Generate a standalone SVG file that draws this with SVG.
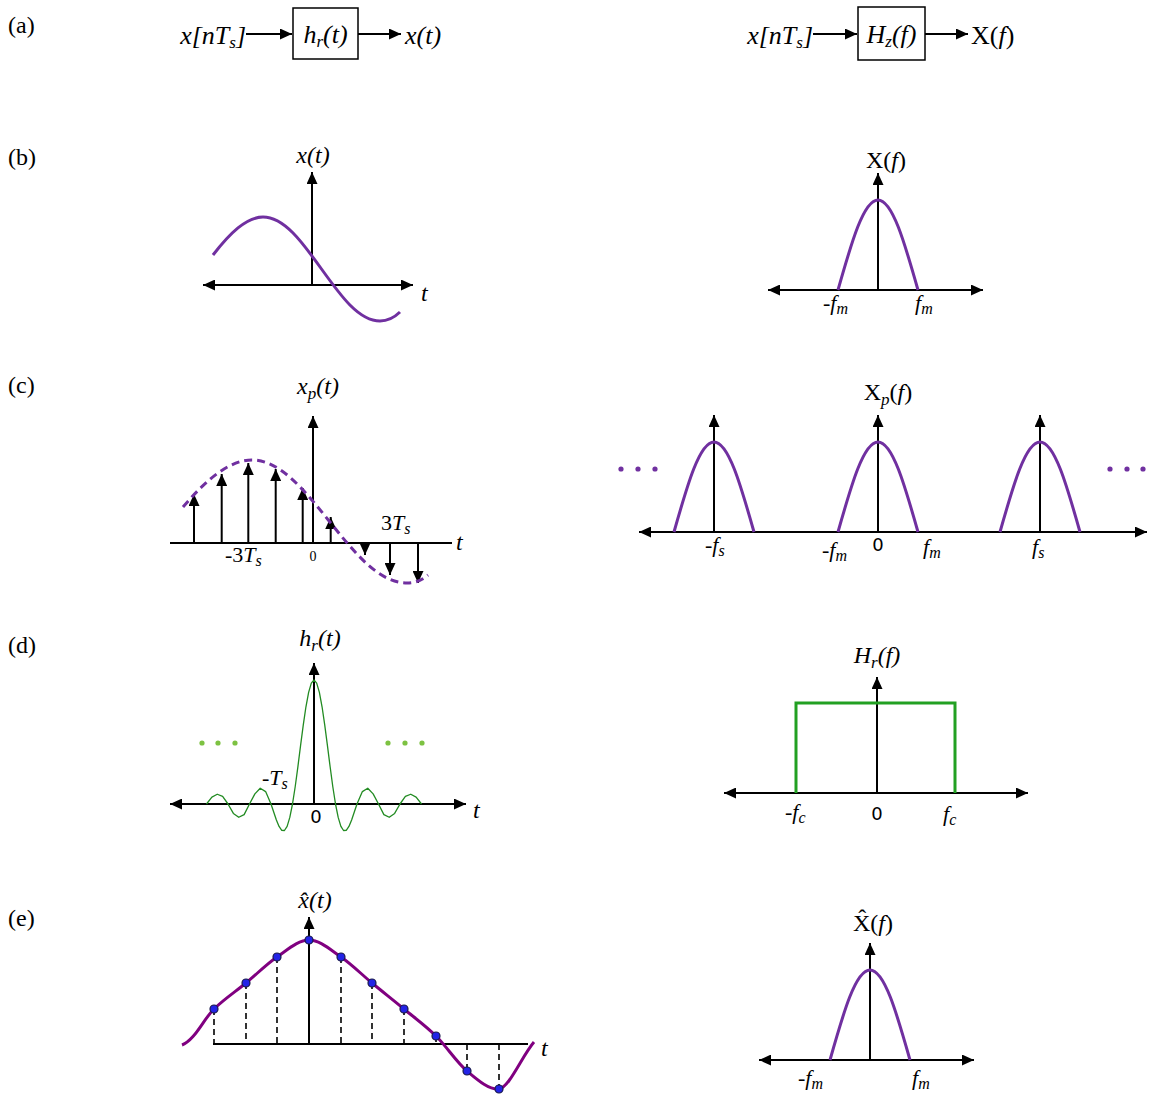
<svg xmlns="http://www.w3.org/2000/svg" width="1149" height="1097" viewBox="0 0 1149 1097">
<style>
text{font-family:"Liberation Serif","Times New Roman",serif;fill:#000}
.it{font-style:italic}
.up{font-style:normal}
.row{font-size:24px}
.blk{font-size:26px;font-style:italic}
.ttl{font-size:24px;font-style:italic}
.tk{font-size:22px}
.z{font-family:"DejaVu Sans","Liberation Sans",sans-serif;font-size:18px}
.ax{stroke:#000;stroke-width:2;fill:none}
.ax1{stroke:#000;stroke-width:2;fill:none;marker-end:url(#ah)}
.ax2{stroke:#000;stroke-width:2;fill:none;marker-end:url(#ah);marker-start:url(#ah)}
.imp{stroke:#000;stroke-width:2;fill:none;marker-end:url(#ah)}
.pur{stroke:#7030A0;stroke-width:3;fill:none}
.grn{stroke:#228B22;stroke-width:1.3;fill:none}
.box{stroke:#000;stroke-width:1.5;fill:#fff}
.dsh{stroke:#000;stroke-width:1.6;stroke-dasharray:6 4;fill:none}
.smp{fill:#2323E6;stroke:#1a1a4a;stroke-width:1.2}
</style>
<defs>
<marker id="ah" markerUnits="userSpaceOnUse" markerWidth="13" markerHeight="11" refX="12" refY="5.5" orient="auto-start-reverse" viewBox="0 0 13 11">
<path d="M0,0 L12,5.5 L0,11 z" fill="#000"/>
</marker>
</defs>

<g id="row-labels">
<text class="row" x="8" y="33">(a)</text>
<text class="row" x="8" y="165">(b)</text>
<text class="row" x="8" y="393">(c)</text>
<text class="row" x="8" y="653">(d)</text>
<text class="row" x="8" y="926">(e)</text>
</g>

<g id="a-left">
<text class="blk" x="246" y="44" text-anchor="end">x[nT<tspan font-size="17" dy="4">s</tspan><tspan dy="-4">]</tspan></text>
<g id="hr-box"><rect class="box" x="293" y="8" width="65" height="51"/>
<text class="blk" x="325.5" y="43" text-anchor="middle">h<tspan font-size="17" dy="4">r</tspan><tspan dy="-4">(t)</tspan></text></g>
<text class="blk" x="405" y="44">x(t)</text>
</g>

<g id="a-right">
<text class="blk" x="813" y="44" text-anchor="end">x[nT<tspan font-size="17" dy="4">s</tspan><tspan dy="-4">]</tspan></text>
<g id="hz-box"><rect class="box" x="858" y="7" width="67" height="53"/>
<text class="blk" x="891.5" y="43" text-anchor="middle">H<tspan font-size="17" dy="4">z</tspan><tspan dy="-4">(f)</tspan></text></g>
<text class="blk" x="971" y="44"><tspan class="up">X(</tspan>f<tspan class="up">)</tspan></text>
</g>

<g id="connectors">
<line class="ax1" x1="246" y1="34" x2="292" y2="34"/>
<line class="ax1" x1="358" y1="34" x2="401" y2="34"/>
<line class="ax1" x1="813" y1="34" x2="857" y2="34"/>
<line class="ax1" x1="925" y1="34" x2="968" y2="34"/>
</g>

<g id="b-left">
<line class="ax2" x1="203" y1="285" x2="413" y2="285"/>
<line class="ax1" x1="312" y1="285" x2="312" y2="172"/>
<path class="pur" d="M213,255 C229.7,233.5 246.3,217 263,217 C284.07,217 301.94,241.69 321.5,269 C341.06,296.31 358.93,321 380,321 C386.67,321 393.33,318.46 400,312"/>
<text class="ttl" x="313" y="163" text-anchor="middle">x(t)</text>
<text class="ttl" x="421" y="301">t</text>
</g>

<g id="b-right">
<line class="ax2" x1="768" y1="290" x2="983" y2="290"/>
<line class="ax1" x1="878" y1="290" x2="878" y2="173"/>
<path class="pur" d="M838,290 C851.37,242.74 863.59,200 878,200 C892.41,200 904.63,242.74 918,290"/>
<text class="ttl" x="886" y="168" text-anchor="middle"><tspan class="up">X(</tspan>f<tspan class="up">)</tspan></text>
<text class="tk" x="823" y="310">-<tspan class="it">f</tspan><tspan class="it" font-size="16" dy="4">m</tspan></text>
<text class="tk" x="915" y="310"><tspan class="it">f</tspan><tspan class="it" font-size="16" dy="4">m</tspan></text>
</g>

<g id="c-left">
<line class="ax" x1="170" y1="543" x2="452" y2="543"/>
<line class="imp" x1="313" y1="543" x2="313" y2="416"/>
<line class="imp" x1="194" y1="543" x2="194" y2="494"/>
<line class="imp" x1="221.7" y1="543" x2="221.7" y2="474"/>
<line class="imp" x1="248.3" y1="543" x2="248.3" y2="463"/>
<line class="imp" x1="275.7" y1="543" x2="275.7" y2="469"/>
<line class="imp" x1="302.7" y1="543" x2="302.7" y2="488"/>
<line class="imp" x1="330.7" y1="543" x2="330.7" y2="517"/>
<line class="imp" x1="365" y1="543" x2="365" y2="555"/>
<line class="imp" x1="390" y1="543" x2="390" y2="575"/>
<line class="imp" x1="418" y1="543" x2="418" y2="583"/>
<path class="pur" stroke-dasharray="8 5" d="M183,507 C206,480 229,460 252,460 C279.92,460 303.6,489.21 329.5,521.5 C355.41,553.79 379.09,583 407,583 C414,583 421,581.1 428,575"/>
<text class="ttl" x="318" y="394" text-anchor="middle">x<tspan font-size="17" dy="5">p</tspan><tspan dy="-5">(t)</tspan></text>
<text class="ttl" x="456" y="550">t</text>
<text class="tk" x="225" y="562">-3<tspan class="it">T</tspan><tspan class="it" font-size="16" dy="4">s</tspan></text>
<text x="313" y="561" font-size="14" text-anchor="middle">0</text>
<text class="tk" x="381" y="530">3<tspan class="it">T</tspan><tspan class="it" font-size="16" dy="4">s</tspan></text>
</g>

<g id="c-right">
<line class="ax2" x1="639" y1="532" x2="1147" y2="532"/>
<line class="ax1" x1="714" y1="532" x2="714" y2="415"/>
<line class="ax1" x1="878" y1="532" x2="878" y2="415"/>
<line class="ax1" x1="1040" y1="532" x2="1040" y2="415"/>
<path class="pur" d="M674,532 C687.37,484.74 699.59,442 714,442 C728.41,442 740.63,484.74 754,532"/>
<path class="pur" d="M838,532 C851.37,484.74 863.59,442 878,442 C892.41,442 904.63,484.74 918,532"/>
<path class="pur" d="M1000,532 C1013.37,484.74 1025.59,442 1040,442 C1054.41,442 1066.63,484.74 1080,532"/>
<g fill="#7030A0">
<circle cx="621" cy="469" r="2.6"/><circle cx="638" cy="469" r="2.6"/><circle cx="655" cy="469" r="2.6"/>
<circle cx="1110" cy="469" r="2.6"/><circle cx="1127" cy="469" r="2.6"/><circle cx="1143" cy="469" r="2.6"/>
</g>
<text class="ttl" x="888" y="400" text-anchor="middle"><tspan class="up">X</tspan><tspan font-size="17" dy="5">p</tspan><tspan dy="-5" class="up">(</tspan>f<tspan class="up">)</tspan></text>
<text class="tk" x="705" y="552">-<tspan class="it">f</tspan><tspan class="it" font-size="16" dy="4">s</tspan></text>
<text class="tk" x="822" y="557">-<tspan class="it">f</tspan><tspan class="it" font-size="16" dy="4">m</tspan></text>
<text class="z" x="878" y="551" text-anchor="middle">0</text>
<text class="tk" x="923" y="554"><tspan class="it">f</tspan><tspan class="it" font-size="16" dy="4">m</tspan></text>
<text class="tk" x="1032" y="554"><tspan class="it">f</tspan><tspan class="it" font-size="16" dy="4">s</tspan></text>
</g>

<g id="d-left">
<line class="ax2" x1="170" y1="804" x2="466" y2="804"/>
<line class="ax1" x1="314" y1="804" x2="314" y2="663"/>
<polyline class="grn" points="206.5,804 211.88,797.12 217.25,794.23 222.63,796.43 228,804 233.38,813.44 238.75,817.27 244.13,814.59 249.5,804 254.88,793.86 260.25,788.21 265.63,791.6 271,804 273.69,812.06 276.38,819.95 279.06,826.44 281.75,830.31 284.44,830.52 287.13,826.33 289.81,817.43 292.5,804 295.19,786.74 297.88,766.79 300.56,745.65 303.25,725.06 305.94,706.76 308.63,692.36 311.31,683.16 314,680 316.69,683.16 319.38,692.36 322.06,706.76 324.75,725.06 327.44,745.65 330.13,766.79 332.81,786.74 335.5,804 338.19,817.43 340.88,826.33 343.56,830.52 346.25,830.31 348.94,826.44 351.63,819.95 354.31,812.06 357,804 362.38,791.6 367.75,788.21 373.13,793.86 378.5,804 383.88,814.59 389.25,817.27 394.63,813.44 400,804 405.38,796.43 410.75,794.23 416.13,797.12 421.5,804" stroke-linejoin="round"/>
<g fill="#7DC242">
<circle cx="202" cy="743" r="2.6"/><circle cx="218" cy="743" r="2.6"/><circle cx="235" cy="743" r="2.6"/>
<circle cx="388" cy="743" r="2.6"/><circle cx="405" cy="743" r="2.6"/><circle cx="422" cy="743" r="2.6"/>
</g>
<text class="ttl" x="320" y="646" text-anchor="middle">h<tspan font-size="17" dy="5">r</tspan><tspan dy="-5">(t)</tspan></text>
<text class="ttl" x="473" y="818">t</text>
<text class="tk" x="262" y="785">-<tspan class="it">T</tspan><tspan class="it" font-size="16" dy="4">s</tspan></text>
<text class="z" x="316" y="823" text-anchor="middle" font-size="16">0</text>
</g>

<g id="d-right">
<line class="ax2" x1="724" y1="793" x2="1028" y2="793"/>
<line class="ax1" x1="877" y1="793" x2="877" y2="677"/>
<path d="M796,793 V703 H955 V793" stroke="#22A022" stroke-width="3" fill="none"/>
<text class="ttl" x="877" y="663" text-anchor="middle">H<tspan font-size="17" dy="5">r</tspan><tspan dy="-5">(f)</tspan></text>
<text class="tk" x="785" y="819">-<tspan class="it">f</tspan><tspan class="it" font-size="16" dy="4">c</tspan></text>
<text class="z" x="877" y="820" text-anchor="middle">0</text>
<text class="tk" x="943" y="821"><tspan class="it">f</tspan><tspan class="it" font-size="16" dy="4">c</tspan></text>
</g>

<g id="e-left">
<line class="ax" x1="213" y1="1044" x2="528" y2="1044"/>
<line class="ax1" x1="309" y1="1044" x2="309" y2="917"/>
<g class="dsh">
<line x1="214" y1="1009" x2="214" y2="1044"/>
<line x1="246" y1="983" x2="246" y2="1044"/>
<line x1="277" y1="957" x2="277" y2="1044"/>
<line x1="341" y1="957" x2="341" y2="1044"/>
<line x1="372" y1="983" x2="372" y2="1044"/>
<line x1="404" y1="1009" x2="404" y2="1044"/>
<line x1="436" y1="1036" x2="436" y2="1044"/>
<line x1="467" y1="1044" x2="467" y2="1071"/>
<line x1="499" y1="1044" x2="499" y2="1089"/>
</g>
<path stroke="#800080" stroke-width="3" fill="none" d="M182,1045 C195,1040 203.33,1019.33 214,1009 C224.67,998.67 235.5,991.67 246,983 C256.5,974.33 266.5,964.17 277,957 C287.5,949.83 298.33,940 309,940 C319.67,940 330.5,949.83 341,957 C351.5,964.17 361.5,974.33 372,983 C382.5,991.67 393.33,1000.17 404,1009 C414.67,1017.83 425.5,1025.67 436,1036 C446.5,1046.33 456.5,1062.17 467,1071 C477.5,1079.83 489,1090 499,1089 C509,1088 522,1056 534,1042"/>
<g class="smp">
<circle cx="214" cy="1009" r="4"/><circle cx="246" cy="983" r="4"/><circle cx="277" cy="957" r="4"/>
<circle cx="309" cy="940" r="4"/><circle cx="341" cy="957" r="4"/><circle cx="372" cy="983" r="4"/>
<circle cx="404" cy="1009" r="4"/><circle cx="436" cy="1036" r="4"/><circle cx="467" cy="1071" r="4"/>
<circle cx="499" cy="1089" r="4"/>
</g>
<text class="ttl" x="315" y="908" text-anchor="middle">x̂(t)</text>
<text class="ttl" x="541" y="1056">t</text>
</g>

<g id="e-right">
<line class="ax2" x1="759" y1="1060" x2="974" y2="1060"/>
<line class="ax1" x1="870" y1="1060" x2="870" y2="943"/>
<path class="pur" d="M830,1060 C843.37,1012.74 855.59,970 870,970 C884.41,970 896.63,1012.74 910,1060"/>
<text class="ttl" x="873" y="931" text-anchor="middle"><tspan class="up">X̂(</tspan>f<tspan class="up">)</tspan></text>
<text class="tk" x="798" y="1085">-<tspan class="it">f</tspan><tspan class="it" font-size="16" dy="4">m</tspan></text>
<text class="tk" x="912" y="1085"><tspan class="it">f</tspan><tspan class="it" font-size="16" dy="4">m</tspan></text>
</g>
</svg>
